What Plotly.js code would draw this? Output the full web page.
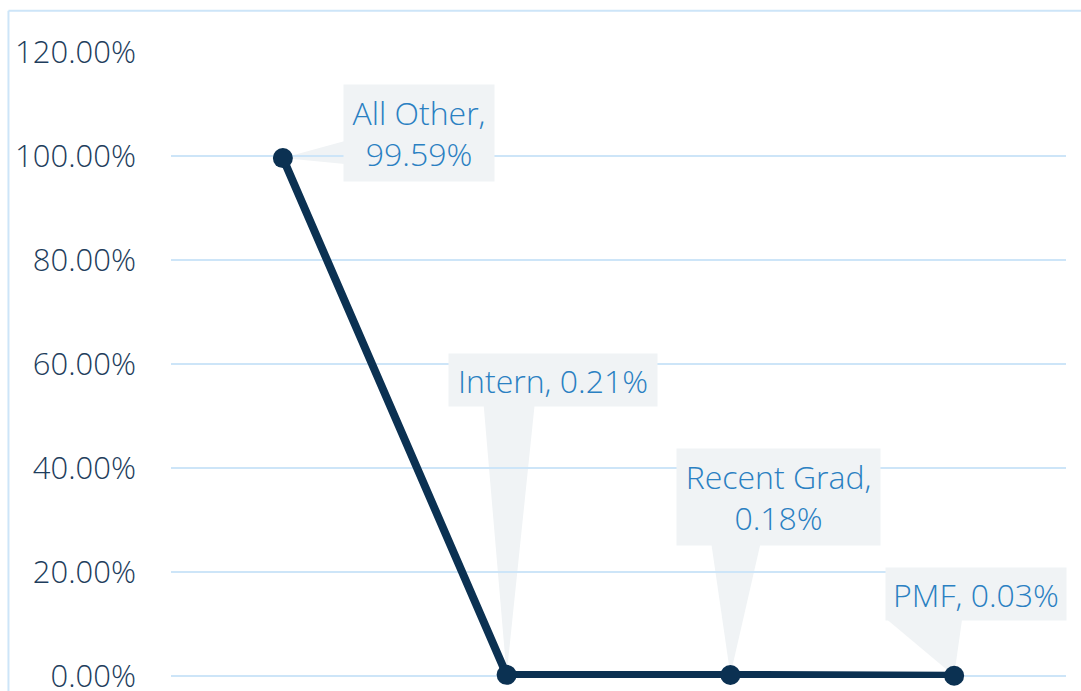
<!DOCTYPE html>
<html>
<head>
<meta charset="utf-8">
<script src="https://cdn.plot.ly/plotly-3.0.1.min.js"></script>
<style>html,body{margin:0;padding:0;background:#fff;}#chart{width:1081px;height:691px;}</style>
</head>
<body>
<div id="chart"></div>
<script>
// Data
const categories = ["All Other", "Intern", "Recent Grad", "PMF"];
const shares = [99.59, 0.21, 0.18, 0.03];
const labelTexts = ["All Other,<br>99.59%", "Intern, 0.21%", "Recent Grad,<br>0.18%", "PMF, 0.03%"];
const yTickVals = [0, 20, 40, 60, 80, 100, 120];
const yTickText = ["0.00%", "20.00%", "40.00%", "60.00%", "80.00%", "100.00%", "120.00%"];

// Callout styling (pixel offsets of label boxes relative to their points)
const callouts = [
  {ax: 136, ay: -25, w: 150, h: 96, wedge: "M 0 0 L 62 17 L 62 -6 Z"},
  {ax: 46, ay: -295, w: 208, h: 52, wedge: "M 0 0 L -23 270 L 28 270 Z"},
  {ax: 48, ay: -178, w: 203, h: 96, wedge: "M 0 0 L -19 131 L 30 131 Z"},
  {ax: 22, ay: -82, w: 180, h: 52, wedge: "M 0 0 L -68 57 L 8 57 Z"}
];

const boxColor = "#f0f3f5";
const labelColor = "#2a80c2";
const navy = "#0b3152";
const gridColor = "#cde5f8";

const annotations = categories.map((c, i) => ({
  x: c, y: shares[i], xref: "x", yref: "y",
  text: labelTexts[i],
  showarrow: true, arrowcolor: "rgba(0,0,0,0)", arrowwidth: 0.1, arrowhead: 0,
  ax: callouts[i].ax, ay: callouts[i].ay,
  width: callouts[i].w, height: callouts[i].h,
  bgcolor: boxColor, borderpad: 0, align: "center", valign: "middle",
  font: {family: "Open Sans", size: 32, color: labelColor, weight: 300}
}));

const shapes = categories.map((c, i) => ({
  type: "path", layer: "below",
  xref: "x", yref: "y", xsizemode: "pixel", ysizemode: "pixel",
  xanchor: c, yanchor: shares[i],
  path: callouts[i].wedge,
  fillcolor: boxColor, line: {width: 0}
}));
// frame lines (top and left)
shapes.push({type: "line", xref: "paper", yref: "paper", x0: -0.1816, x1: 1.1, y0: 1.066, y1: 1.066, line: {color: gridColor, width: 2}});
shapes.push({type: "line", xref: "paper", yref: "paper", x0: -0.1816, x1: -0.1816, y0: 1.066, y1: -0.1, line: {color: gridColor, width: 2}});

const trace = {
  type: "scatter", mode: "lines+markers",
  x: categories, y: shares,
  line: {color: navy, width: 8},
  marker: {color: navy, size: 20},
  cliponaxis: false, hoverinfo: "skip"
};

const layout = {
  width: 1081, height: 691,
  margin: {l: 171, r: 15, t: 52, b: 13, pad: 0},
  paper_bgcolor: "#ffffff", plot_bgcolor: "#ffffff",
  showlegend: false,
  xaxis: {type: "category", range: [-0.5, 3.5], showgrid: false, showticklabels: false, zeroline: false, showline: false, ticks: ""},
  yaxis: {range: [-0.4, 120], tickvals: yTickVals, ticktext: yTickText, showgrid: true, gridcolor: gridColor, gridwidth: 2,
          zeroline: false, showline: false, ticks: "", ticklabelstandoff: 34, ticklabeloverflow: "allow",
          tickfont: {family: "Open Sans", size: 31, color: "#1e3d5c", weight: 300}},
  annotations: annotations,
  shapes: shapes
};

Plotly.newPlot("chart", [trace], layout, {staticPlot: true});
</script>
</body>
</html>
